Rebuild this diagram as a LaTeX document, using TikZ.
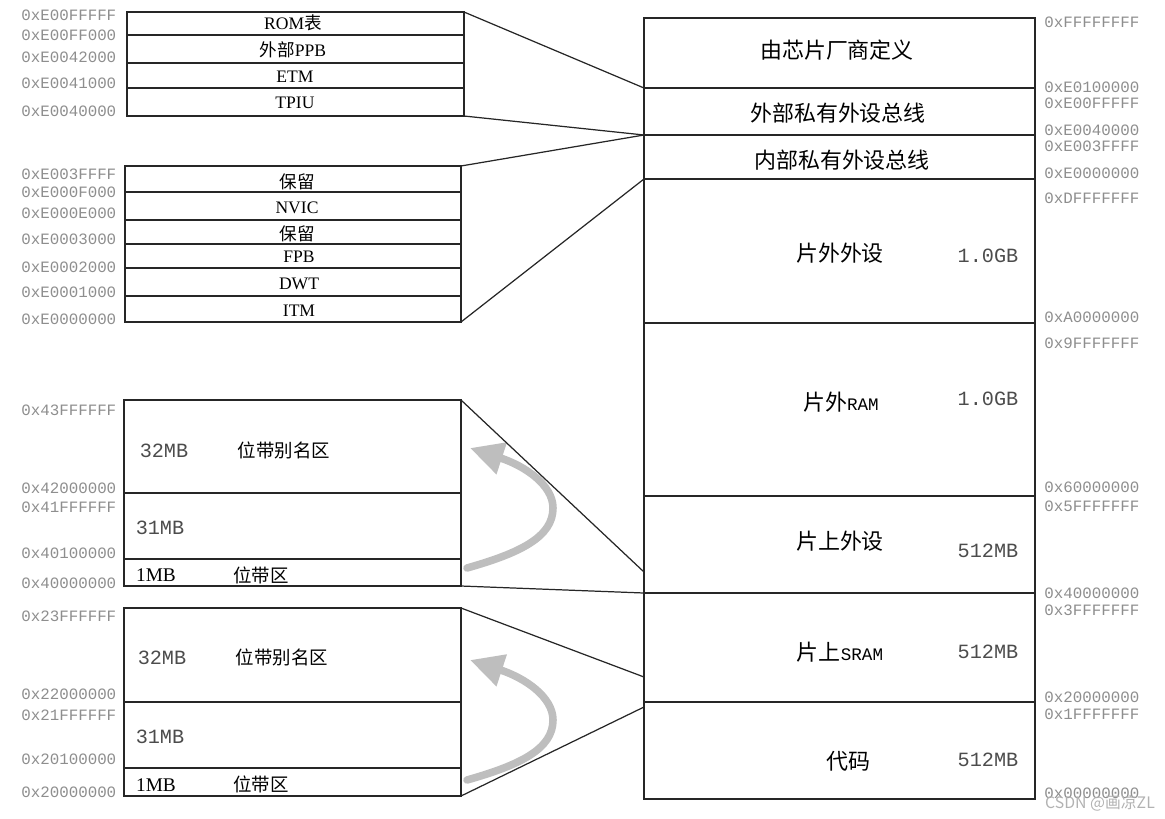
\documentclass[tikz,border=0pt]{standalone}
\usepackage{fontspec}
\setmainfont{Liberation Serif}
\setmonofont{Liberation Mono}
\newfontfamily\cjk{Noto Sans CJK SC}
\usetikzlibrary{positioning, calc, arrows.meta}

\tikzset{
  caixa/.style={draw=black!85, line width=0.8pt},
  liga/.style={draw=black!85, line width=0.7pt},
  ender/.style={font=\ttfamily\fontsize{9}{9}\selectfont, text=endgris, anchor=west, inner sep=0pt},
  regiao/.style={font=\cjk\fontsize{12.5}{12.5}\selectfont},
  tam/.style={font=\ttfamily\fontsize{11.5}{11.5}\selectfont, text=black!70},
  reg/.style={font=\fontsize{10}{10}\selectfont},
  banda/.style={font=\cjk\fontsize{10.5}{10.5}\selectfont},
  seta/.style={line width=4.3pt, draw=setagris, line cap=round, -{Triangle[length=19pt,width=18pt]}},
}

\begin{document}
\begin{tikzpicture}[x=0.02cm, y=-0.02cm]
% --- MAPA DE MEMORIA: coluna principal, PPB e bit-band ---
\definecolor{endgris}{HTML}{8E8E8E}
\definecolor{setagris}{HTML}{BEBEBE}
\useasboundingbox (0,0) rectangle (1165,818);

% LAYER 1: Coluna principal (4GB)
\coordinate (mapNW) at (644,18);
\coordinate (mapSE) at (1035,799);
\draw[caixa] (mapNW) rectangle (mapSE);
\foreach \y/\n in {88/vend, 135/ppbx, 179/ppbi, 323/extp, 496/extr, 593/onp, 702/sram}
  {\coordinate (\n) at (644,\y); \draw[caixa] (\n) -- (1035,\y);}
\coordinate (bbp1) at (644,572); % entrada alias periferico
\coordinate (bbs1) at (644,677); % entrada alias SRAM
\coordinate (bbs0) at (644,707);

\node[regiao] (vendor) at (837,50) {由芯片厂商定义};
\node[regiao] (extppb) at (838,113) {外部私有外设总线};
\node[regiao] (intppb) at (842,160) {内部私有外设总线};
\node[regiao] (offper) at (840,253) {片外外设};
\node[regiao] (offram) at (841,402) {片外{\ttfamily\fontsize{10}{10}\selectfont RAM}};
\node[regiao] (onper) at (840,541) {片上外设};
\node[regiao] (onsram) at (840,652) {片上{\ttfamily\fontsize{10}{10}\selectfont SRAM}};
\node[regiao] (code) at (848,761) {代码};
\foreach \y/\t [count=\i] in {256/1.0GB, 399/1.0GB, 551/512MB, 652/512MB, 760/512MB}
  \node[tam] (size\i) at (988,\y) {\t};
\foreach \y/\t [count=\i] in {22/FFFFFFFF, 87/E0100000, 103/E00FFFFF, 130/E0040000, 146/E003FFFF,
    173/E0000000, 198/DFFFFFFF, 317/A0000000, 343/9FFFFFFF, 487/60000000, 506/5FFFFFFF,
    593/40000000, 610/3FFFFFFF, 697/20000000, 714/1FFFFFFF, 793/00000000}
  \node[ender] (addrR\i) at (1044,\y) {0x\t};

% LAYER 2: PPB externo
\coordinate (pxNW) at (127,12);
\coordinate (pxNE) at (464,12);
\coordinate (pxSE) at (464,116);
\draw[caixa] (pxNW) rectangle (pxSE);
\foreach \y in {35,63,88} \draw[caixa] (127,\y) -- (464,\y);
\node[reg] (rom) at (293,23) {ROM{\cjk 表}};
\node[reg] (eppb) at (293,50) {{\cjk 外部}PPB};
\node[reg] (etm) at (295,77) {ETM};
\node[reg] (tpiu) at (295,103) {TPIU};
\foreach \y/\t [count=\i] in {15/E00FFFFF, 35/E00FF000, 57/E0042000, 83/E0041000, 111/E0040000}
  \node[ender] (addrX\i) at (21,\y) {0x\t};

% LAYER 3: PPB interno
\coordinate (piNW) at (125,166);
\coordinate (piNE) at (461,166);
\coordinate (piSE) at (461,322);
\draw[caixa] (piNW) rectangle (piSE);
\foreach \y in {192,220,244,268,296} \draw[caixa] (125,\y) -- (461,\y);
\node[reg] (res1) at (297,182) {\cjk 保留};
\node[reg] (nvic) at (297,208) {NVIC};
\node[reg] (res2) at (297,234) {\cjk 保留};
\node[reg] (fpb) at (299,257) {FPB};
\node[reg] (dwt) at (299,284) {DWT};
\node[reg] (itm) at (299,311) {ITM};
\foreach \y/\t [count=\i] in {174/E003FFFF, 192/E000F000, 213/E000E000, 239/E0003000,
    267/E0002000, 292/E0001000, 319/E0000000}
  \node[ender] (addrI\i) at (21,\y) {0x\t};

% LAYER 4: Bit-band periferico
\coordinate (bpNW) at (124,400);
\coordinate (bpNE) at (461,400);
\coordinate (bpSE) at (461,586);
\draw[caixa] (bpNW) rectangle (bpSE);
\draw[caixa] (124,493) -- (461,493);
\draw[caixa] (124,559) -- (461,559);
\node[tam] (bpA) at (164,451) {32MB};
\node[banda] (bpAn) at (284,450) {位带别名区};
\node[tam] (bpB) at (160,528) {31MB};
\node[reg, font=\fontsize{11}{11}\selectfont] (bpC) at (156,575) {1MB};
\node[banda] (bpCn) at (261,575) {位带区};
\foreach \y/\t [count=\i] in {410/43FFFFFF, 488/42000000, 507/41FFFFFF, 553/40100000, 583/40000000}
  \node[ender] (addrP\i) at (21,\y) {0x\t};
\draw[seta] (467,568) .. controls (520,553) and (553,537) .. (553,508)
  .. controls (553,485) and (525,466) .. (470,448);

% LAYER 5: Bit-band SRAM
\coordinate (bsNW) at (124,608);
\coordinate (bsNE) at (461,608);
\coordinate (bsSE) at (461,796);
\draw[caixa] (bsNW) rectangle (bsSE);
\draw[caixa] (124,702) -- (461,702);
\draw[caixa] (124,768) -- (461,768);
\node[tam] (bsA) at (162,658) {32MB};
\node[banda] (bsAn) at (282,657) {位带别名区};
\node[tam] (bsB) at (160,737) {31MB};
\node[reg, font=\fontsize{11}{11}\selectfont] (bsC) at (156,785) {1MB};
\node[banda] (bsCn) at (261,784) {位带区};
\foreach \y/\t [count=\i] in {616/23FFFFFF, 694/22000000, 715/21FFFFFF, 759/20100000, 792/20000000}
  \node[ender] (addrS\i) at (21,\y) {0x\t};
\draw[seta] (467,780) .. controls (520,765) and (553,749) .. (553,720)
  .. controls (553,697) and (525,678) .. (470,660);

% LAYER 6: Linhas de ligacao
\draw[liga] (pxNE) -- (vend);
\draw[liga] (pxSE) -- (ppbx);
\draw[liga] (piNE) -- (ppbx);
\draw[liga] (piSE) -- (ppbi);
\draw[liga] (bpNE) -- (bbp1);
\draw[liga] (bpSE) -- (onp);
\draw[liga] (bsNE) -- (bbs1);
\draw[liga] (bsSE) -- (bbs0);

\node[font=\cjk\fontsize{9}{9}\selectfont, text=black!30] (marca) at (1100,803) {CSDN @画凉ZL};
\end{tikzpicture}
\end{document}
